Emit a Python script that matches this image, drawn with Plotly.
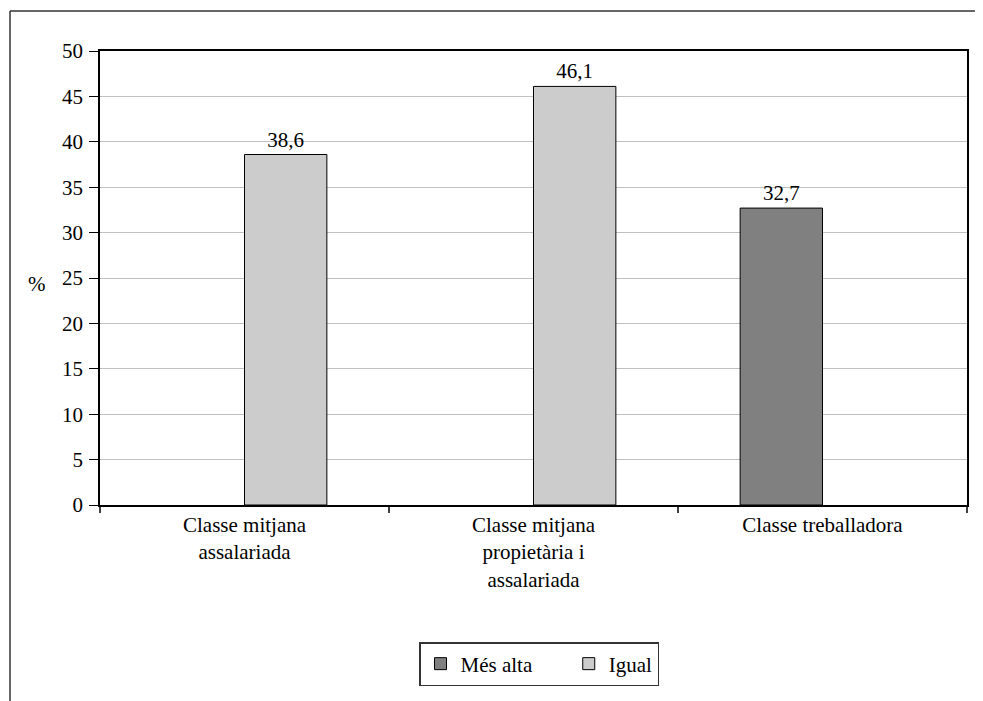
import plotly.graph_objects as go

categories = ["Classe mitjana<br>assalariada", "Classe mitjana<br>propietària i<br>assalariada", "Classe treballadora"]
series_names = ["Més alta", "Igual"]
mes_alta = [None, None, 32.7]
igual = [38.6, 46.1, None]
y_ticks = [0, 5, 10, 15, 20, 25, 30, 35, 40, 45, 50]

FONT = "Liberation Serif"
OFF = 8  # page body margin
W, H = 983 - OFF, 701 - OFF
L, R, T, B = 100 - OFF, 967 - OFF, 51 - OFF, 505 - OFF

def px(x):
    return (x - OFF - L) / (R - L)

def py(y):
    return (B - (y - OFF)) / (B - T)

fig = go.Figure()
fig.add_trace(go.Bar(
    name=series_names[0] + "\u00a0" * 6, x=categories, y=mes_alta,
    marker=dict(color="#808080", line=dict(color="black", width=1)),
    text=mes_alta, texttemplate="%{y:.1f}", textposition="outside",
    textfont=dict(family=FONT, size=21, color="black"), cliponaxis=False,
))
fig.add_trace(go.Bar(
    name=series_names[1], x=categories, y=igual,
    marker=dict(color="#cccccc", line=dict(color="black", width=1)),
    text=igual, texttemplate="%{y:.1f}", textposition="outside",
    textfont=dict(family=FONT, size=21, color="black"), cliponaxis=False,
))

fig.update_layout(
    width=W, height=H,
    margin=dict(l=L, r=W - R, t=T, b=H - B, autoexpand=False),
    barmode="group", bargap=0.43, bargroupgap=0,
    separators=",.",
    plot_bgcolor="white", paper_bgcolor="white",
    font=dict(family=FONT, size=21, color="black"),
    showlegend=True,
    legend=dict(
        orientation="h", x=px(539), xanchor="center", y=py(642), yanchor="top",
        bordercolor="#333333", borderwidth=1.5, bgcolor="white",
        font=dict(family=FONT, size=21, color="black"),
        itemwidth=30, traceorder="normal",
    ),
    xaxis=dict(
        showline=True, linecolor="black", linewidth=1.5, mirror=True,
        ticks="outside", ticklen=0, showgrid=False,
        tickfont=dict(family=FONT, size=21), tickson="boundaries",
    ),
    yaxis=dict(
        range=[0, 50], tickvals=y_ticks, showline=True, linecolor="black",
        linewidth=1.5, mirror=True, ticks="outside", ticklen=9, tickcolor="black",
        showgrid=True, gridcolor="#c0c0c0", gridwidth=1.2, zeroline=False,
        tickfont=dict(family=FONT, size=21), ticklabelstandoff=2,
    ),
    annotations=[dict(
        text="%", xref="paper", yref="paper", x=px(37), y=py(284),
        showarrow=False, font=dict(family=FONT, size=21, color="black"),
        xanchor="center", yanchor="middle",
    )],
    shapes=[
        dict(type="line", xref="paper", yref="paper", x0=px(10), x1=px(990),
             y0=py(11), y1=py(11), line=dict(color="#333333", width=1.5)),
        dict(type="line", xref="paper", yref="paper", x0=px(10), x1=px(10),
             y0=py(11), y1=py(701), line=dict(color="#333333", width=1.5)),
    ] + [
        dict(type="line", xref="paper", yref="paper", x0=i / 3, x1=i / 3,
             y0=0, y1=py(513), line=dict(color="black", width=1.5))
        for i in range(4)
    ],
)

fig.write_html("out.html")
